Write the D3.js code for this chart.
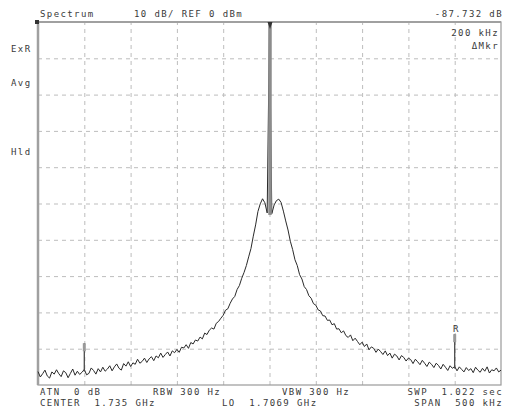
<!DOCTYPE html>
<html>
<head>
<meta charset="utf-8">
<script src="https://cdn.jsdelivr.net/npm/d3@7"></script>
<style>
    body { margin: 0; background: #fff; }
    text { font-family: "DejaVu Sans Mono", monospace; font-size: 9px; fill: #3a3a3a; letter-spacing: 1.4px; white-space: pre; }
</style>
</head>
<body>
<div id="chart"></div>
<script>
const WIDTH = 505
const HEIGHT = 410
const LEFT = 38, RIGHT = 501, TOP = 22, BOTTOM = 385

// sweep: 500 kHz span around 1.735 GHz, one point every 2.5 kHz
const F_START = -250, F_STEP = 2.5
const levels_left = [
    -96.3, -97.8, -96.9, -95.9, -97.5, -98.1, -96.4, -97.0, -95.8, -96.9,
    -97.7, -96.1, -96.6, -98.0, -96.8, -95.6, -97.3, -96.2, -97.1, -96.5,
    -95.7, -97.2, -96.8, -95.3, -96.0, -97.0, -95.5, -96.4, -95.1, -96.2,
    -95.6, -94.7, -96.1, -95.0, -94.2, -95.4, -95.9, -94.1, -94.8, -93.6,
    -94.9, -93.9, -94.3, -92.9, -94.0, -93.5, -92.6, -93.8, -92.8, -92.2,
    -93.3, -92.0, -92.5, -91.2, -92.4, -91.6, -90.9, -92.0, -90.6, -91.1,
    -90.2, -91.0, -89.6, -89.8, -88.9, -89.9, -88.3, -88.7, -87.6, -87.9,
    -86.8, -87.3, -85.7, -86.1, -84.9, -84.3, -84.6, -83.0, -82.5, -81.6,
    -80.8, -79.4, -79.0, -77.5, -76.3, -75.6, -73.7, -72.6, -70.6, -69.0,
    -67.1, -64.7, -62.4, -59.0, -55.9, -52.2, -50.1, -48.7, -49.8, -52.6
]
const level_carrier = [0.0]
const levels_right = [
    -52.8, -50.4, -49.2, -48.8, -49.7, -52.1, -54.8, -57.3, -60.4, -62.7,
    -65.5, -67.1, -69.6, -70.8, -72.9, -73.7, -75.4, -76.1, -77.6, -78.0,
    -79.3, -79.6, -80.9, -81.0, -82.2, -82.1, -83.4, -83.1, -84.6, -84.5,
    -85.6, -85.1, -86.4, -86.9, -86.2, -87.8, -87.1, -88.0, -88.9, -88.2,
    -89.4, -88.7, -90.3, -89.5, -89.9, -91.0, -90.1, -90.8, -91.6, -90.6,
    -91.9, -91.2, -92.6, -91.5, -92.0, -93.1, -91.9, -92.4, -93.4, -92.6,
    -93.0, -94.1, -92.9, -93.6, -94.4, -93.2, -94.0, -94.9, -93.7, -94.3,
    -95.2, -94.0, -94.6, -95.6, -94.3, -95.1, -96.0, -94.7, -95.4, -94.9,
    -96.1, -95.0, -95.7, -96.4, -95.2, -96.0, -95.5, -96.6, -95.1, -95.9,
    -96.5, -95.4, -96.2, -95.0, -96.7, -95.8, -96.1, -95.3, -96.4, -95.9
]
const levels = levels_left.concat(level_carrier, levels_right)

const x_grid = [-200, -150, -100, -50, 0, 50, 100, 150, 200]
const y_grid = [-90, -80, -70, -60, -50, -40, -30, -20, -10]

// markers: frequency offset (kHz), top of marker line (dBm), glyph
const marker_freqs = [-200, 200]
const marker_tops = [-88.5, -86]
const marker_glyphs = ["", "R"]

const header_left = "Spectrum"
const header_mid = "10 dB/ REF 0 dBm"
const header_right = "-87.732 dB"
const mkr_lines = ["200 kHz", "\u0394Mkr"]
const side_labels = [["ExR", 52], ["Avg", 86], ["Hld", 155]]
const footer = [
    ["ATN  0 dB", 40, 395, "start"], ["RBW 300 Hz", 153, 395, "start"],
    ["VBW 300 Hz", 282, 395, "start"], ["SWP  1.022 sec", 503, 395, "end"],
    ["CENTER  1.735 GHz", 40, 406, "start"], ["LO  1.7069 GHz", 222, 406, "start"],
    ["SPAN  500 kHz", 503, 406, "end"]
]

const svg = d3.select("#chart").append("svg")
    .attr("width", WIDTH)
    .attr("height", HEIGHT)

const x = d3.scaleLinear().domain([-250, 250]).range([LEFT, RIGHT])
const y = d3.scaleLinear().domain([-100, 0]).range([BOTTOM, TOP])

// dashed graticule drawn with axes
svg.append("g")
    .attr("transform", `translate(0,${BOTTOM})`)
    .call(d3.axisBottom(x).tickValues(x_grid).tickSize(-(BOTTOM - TOP)).tickFormat(""))
    .call(g => g.select(".domain").remove())
    .call(g => g.selectAll("line").attr("stroke", "#bdbdbd").attr("stroke-dasharray", "4,4"))
svg.append("g")
    .attr("transform", `translate(${LEFT},0)`)
    .call(d3.axisLeft(y).tickValues(y_grid).tickSize(-(RIGHT - LEFT)).tickFormat(""))
    .call(g => g.select(".domain").remove())
    .call(g => g.selectAll("line").attr("stroke", "#bdbdbd").attr("stroke-dasharray", "4,4"))

// frame
svg.append("rect")
    .attr("x", LEFT).attr("y", TOP)
    .attr("width", RIGHT - LEFT).attr("height", BOTTOM - TOP)
    .attr("fill", "none").attr("stroke", "#9a9a9a").attr("stroke-width", 1.2)
svg.append("line")
    .attr("x1", LEFT).attr("x2", LEFT).attr("y1", TOP).attr("y2", BOTTOM)
    .attr("stroke", "#a0a0a0").attr("stroke-width", 2.5)
svg.append("line")
    .attr("x1", LEFT).attr("x2", RIGHT).attr("y1", TOP).attr("y2", TOP)
    .attr("stroke", "#a0a0a0").attr("stroke-width", 2)
svg.append("rect")
    .attr("x", LEFT - 3).attr("y", TOP - 2).attr("width", 4).attr("height", 4)
    .attr("fill", "#333")

// trace
const trace = levels.map((v, i) => ({f: F_START + i * F_STEP, v}))
svg.append("path")
    .datum(trace)
    .attr("fill", "none")
    .attr("stroke", "#2a2a2a")
    .attr("stroke-width", 1)
    .attr("stroke-linejoin", "round")
    .attr("d", d3.line().x(d => x(d.f)).y(d => y(d.v)))

// carrier line + peak marker
const carrier_foot = Math.max(levels_left[levels_left.length - 1], levels_right[0])
svg.append("line")
    .attr("x1", x(0) + 0.5).attr("x2", x(0) + 0.5)
    .attr("y1", y(level_carrier[0])).attr("y2", y(carrier_foot) + 2)
    .attr("stroke", "#8c8c8c").attr("stroke-width", 3.5)
svg.append("path")
    .attr("d", `M${x(0) - 2},${y(0)} L${x(0) + 3},${y(0)} L${x(0) + 0.5},${y(0) + 7} Z`)
    .attr("fill", "#333")

// side markers
marker_freqs.forEach((f, i) => {
    const idx = Math.round((f - F_START) / F_STEP)
    svg.append("line")
        .attr("x1", x(f)).attr("x2", x(f))
        .attr("y1", y(levels[idx]) + 2).attr("y2", y(marker_tops[i]))
        .attr("stroke", "#4a4a4a").attr("stroke-width", 1.3)
    svg.append("rect")
        .attr("x", x(f) - 1.5).attr("y", y(marker_tops[i]))
        .attr("width", 3).attr("height", 8)
        .attr("fill", "#999")
    if (marker_glyphs[i]) {
        svg.append("text")
            .attr("x", x(f) + 1).attr("y", y(marker_tops[i]) - 2)
            .attr("text-anchor", "middle")
            .style("letter-spacing", "0px")
            .text(marker_glyphs[i])
    }
})

// texts
svg.append("text").attr("x", 40).attr("y", 17).text(header_left)
svg.append("text").attr("x", 134).attr("y", 17).text(header_mid)
svg.append("text").attr("x", 503).attr("y", 17).attr("text-anchor", "end").text(header_right)
mkr_lines.forEach((t, i) => {
    svg.append("text").attr("x", 499).attr("y", 36 + i * 13).attr("text-anchor", "end").text(t)
})
side_labels.forEach(([t, yy]) => {
    svg.append("text").attr("x", 11).attr("y", yy).text(t)
})
footer.forEach(([t, xx, yy, anchor]) => {
    svg.append("text").attr("x", xx).attr("y", yy).attr("text-anchor", anchor).text(t)
})
</script>
</body>
</html>
